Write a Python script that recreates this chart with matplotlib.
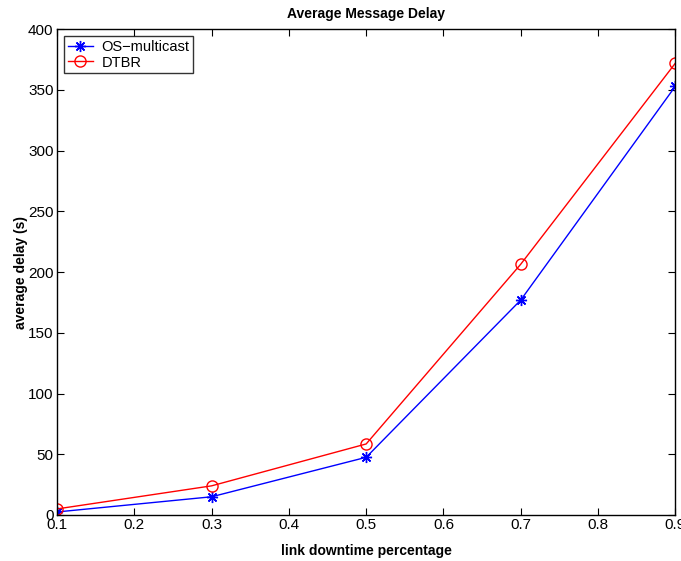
import matplotlib
matplotlib.use("Agg")
import matplotlib.pyplot as plt

plt.rcParams['font.family'] = ['Liberation Sans', 'DejaVu Sans']

# link downtime percentage
downtime = [0.1, 0.3, 0.5, 0.7, 0.9]
# average delay (s)
os_multicast = [2.5, 15, 47.5, 177, 353]
dtbr = [5, 24, 58.5, 206.5, 372]

fig = plt.figure(figsize=(6.81, 5.61), dpi=100)
ax = fig.add_axes([0.0837, 0.082, 0.908, 0.866])

ax.plot(downtime, os_multicast, color='blue', marker=(8, 2, 0), markersize=8,
        markeredgewidth=1, linewidth=1, label='OS\u2212multicast')
ax.plot(downtime, dtbr, color='red', marker='o', markerfacecolor='none',
        markersize=8, linewidth=1, label='DTBR')

ax.set_xlim(0.1, 0.9)
ax.set_ylim(0, 400)
ax.set_xticks([0.1, 0.2, 0.3, 0.4, 0.5, 0.6, 0.7, 0.8, 0.9])
ax.set_yticks(range(0, 401, 50))
ax.tick_params(direction='in', top=True, right=True, labelsize=11, length=5, pad=2.5)
for s in ax.spines.values():
    s.set_linewidth(1)

ax.set_xlabel('link downtime percentage', fontsize=10, fontweight='bold', labelpad=8)
ax.set_ylabel('average delay (s)', fontsize=10, fontweight='bold', labelpad=0)
ax.set_title('Average Message Delay', fontsize=10, fontweight='bold', pad=8)

leg = ax.legend(loc='upper left', fontsize=10.5, frameon=True, fancybox=False,
                edgecolor='black', borderpad=0.25, labelspacing=0.1,
                handlelength=1.7, handletextpad=0.6, borderaxespad=0.5)
leg.get_frame().set_linewidth(1)

fig.savefig('out.png', dpi=100)
